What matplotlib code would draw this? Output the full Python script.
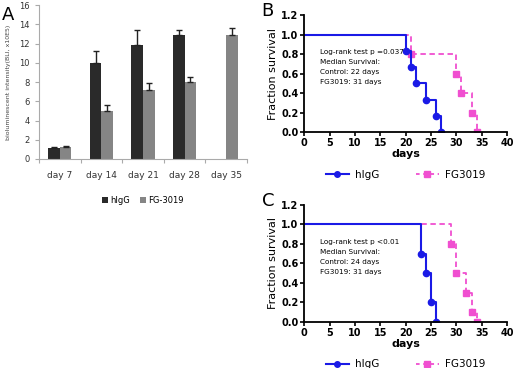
import numpy as np
import matplotlib
matplotlib.use('Agg')
import matplotlib.pyplot as plt

# panel A data
days = ['day 7', 'day 14', 'day 21', 'day 28', 'day 35']
higg_bli = [1.1, 10.0, 11.9, 12.9, np.nan]
higg_err = [0.1, 1.2, 1.5, 0.5, 0.0]
fg_bli = [1.2, 5.0, 7.2, 8.0, 12.9]
fg_err = [0.15, 0.6, 0.7, 0.5, 0.7]

# panel B survival
b_higg_t = [0, 20, 21, 22, 24, 26, 27]
b_higg_s = [1.0, 0.833, 0.667, 0.5, 0.333, 0.167, 0.0]
b_fg_t = [0, 21, 30, 31, 33, 34]
b_fg_s = [1.0, 0.8, 0.6, 0.4, 0.2, 0.0]

# panel C survival
c_higg_t = [0, 23, 24, 25, 26]
c_higg_s = [1.0, 0.7, 0.5, 0.2, 0.0]
c_fg_t = [0, 29, 30, 32, 33, 34]
c_fg_s = [1.0, 0.8, 0.5, 0.3, 0.1, 0.0]

b_text = ['Log-rank test p =0.037', 'Median Survival:', 'Control: 22 days', 'FG3019: 31 days']
c_text = ['Log-rank test p <0.01', 'Median Survival:', 'Control: 24 days', 'FG3019: 31 days']

BLUE = '#1a1ae6'
PINK = '#f04fd0'

fig = plt.figure(figsize=(5.2, 3.68), dpi=100)

# ---- panel A: bars
axA = fig.add_axes([0.075, 0.568, 0.40, 0.418])
ind = np.arange(len(days))
w = 0.28
axA.bar(ind - w / 2, higg_bli, w, color='#2a2a2a', label='hIgG',
        yerr=[np.zeros(len(days)), higg_err], capsize=2.5,
        error_kw=dict(elinewidth=1.0, capthick=1.0, ecolor='#222222'))
axA.bar(ind + w / 2, fg_bli, w, color='#858585', label='FG-3019',
        yerr=[np.zeros(len(days)), fg_err], capsize=2.5,
        error_kw=dict(elinewidth=1.0, capthick=1.0, ecolor='#222222'))
axA.set_xlim(-0.5, len(days) - 0.5)
axA.set_ylim(0, 16)
axA.set_yticks(range(0, 17, 2))
axA.set_xticks(np.arange(-0.5, len(days)), minor=False)
axA.set_xticklabels([])
axA.set_xticks(ind, minor=True)
axA.set_xticklabels(days, minor=True, fontsize=6.5, color='#333333')
axA.tick_params(axis='x', which='minor', length=0, pad=9)
axA.tick_params(axis='x', which='major', length=3, color='#aaaaaa')
axA.tick_params(axis='y', labelsize=6, length=3, color='#aaaaaa', labelcolor='#333333')
for s in ['top', 'right']:
    axA.spines[s].set_visible(False)
for s in ['left', 'bottom']:
    axA.spines[s].set_color('#aaaaaa')
axA.set_ylabel('bioluminescent intensity(BLI, x10E5)', fontsize=4.5, color='#444444', labelpad=6)
axA.legend(loc='upper center', bbox_to_anchor=(0.5, -0.19), ncol=2, frameon=False,
           fontsize=6, handlelength=0.7, handleheight=0.7, handletextpad=0.3, columnspacing=1.2)
fig.text(0.004, 0.985, 'A', fontsize=13, va='top', ha='left')


def survival(ax, ht, hs, ft, fs, lines, letter):
    ax.step(ft, fs, where='post', color=PINK, lw=1.3, ls=(0, (3, 2)))
    ax.plot(ft[1:], fs[1:], 's', color=PINK, ms=4.5, ls='none')
    ax.step(ht, hs, where='post', color=BLUE, lw=1.5)
    ax.plot(ht[1:], hs[1:], 'o', color=BLUE, ms=4.5, ls='none')
    ax.set_xlim(0, 40)
    ax.set_ylim(0, 1.2)
    ax.set_xticks(range(0, 41, 5))
    ax.set_yticks(np.arange(0, 1.21, 0.2))
    ax.set_yticklabels(['%.1f' % v for v in np.arange(0, 1.21, 0.2)])
    ax.tick_params(labelsize=7, length=3, width=1.2, pad=1)
    for lab in ax.get_xticklabels() + ax.get_yticklabels():
        lab.set_fontweight('bold')
    for s in ['top', 'right']:
        ax.spines[s].set_visible(False)
    for s in ['left', 'bottom']:
        ax.spines[s].set_linewidth(1.3)
    ax.set_xlabel('days', fontsize=8, fontweight='bold', labelpad=1)
    ax.set_ylabel('Fraction survival', fontsize=8, labelpad=2)
    for i, t in enumerate(lines):
        ax.text(3.2, 0.82 - i * 0.103, t, fontsize=5.2, va='center', ha='left')
    h1, = ax.plot([], [], '-o', color=BLUE, ms=4, lw=1.5)
    h2, = ax.plot([], [], 's', color=PINK, ms=4, ls=(0, (2, 2)), lw=1.3)
    ax.legend([h1, h2], ['hIgG', 'FG3019'], loc='upper center', bbox_to_anchor=(0.5, -0.24),
              ncol=2, frameon=False, fontsize=7.5, handlelength=2.2, columnspacing=3.5,
              handletextpad=0.6)
    pos = ax.get_position()
    fig.text(0.503, pos.y1 + 0.035, letter, fontsize=13, va='top', ha='left')


axB = fig.add_axes([0.585, 0.641, 0.39, 0.318])
survival(axB, b_higg_t, b_higg_s, b_fg_t, b_fg_s, b_text, 'B')
axC = fig.add_axes([0.585, 0.125, 0.39, 0.318])
survival(axC, c_higg_t, c_higg_s, c_fg_t, c_fg_s, c_text, 'C')

fig.savefig('out.png', dpi=100)
